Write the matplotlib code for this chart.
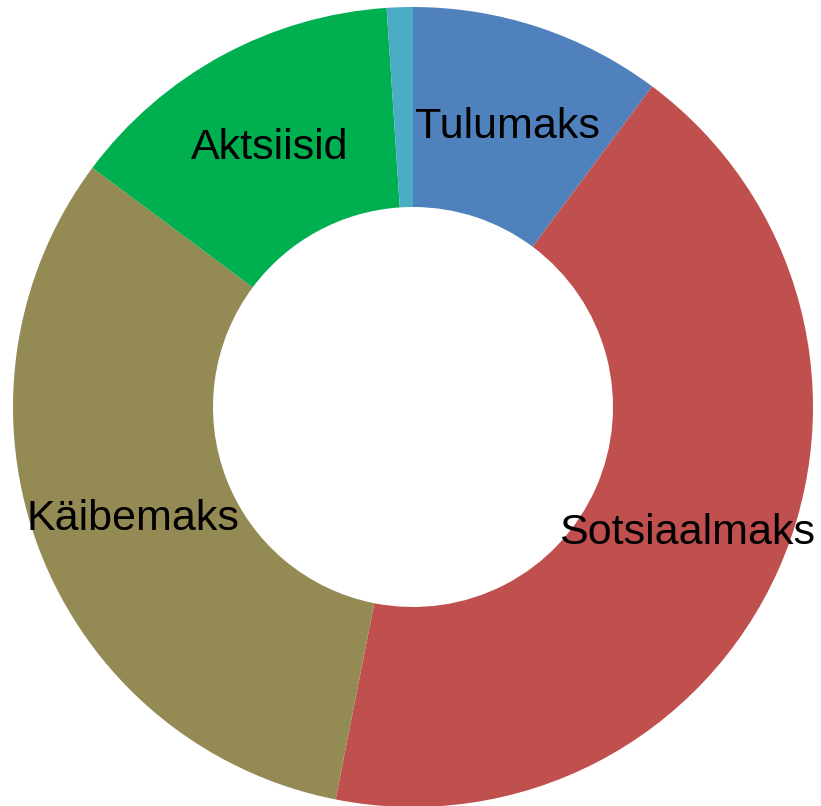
import matplotlib.pyplot as plt

# maksude osakaalud (%)
nimed = ['Tulumaks', 'Sotsiaalmaks', 'Käibemaks', 'Aktsiisid', '']
osakaal = [10.2, 42.9, 32.1, 13.75, 1.05]
varvid = ['#4F81BD', '#C0504D', '#948A54', '#00B050', '#4BACC6']

fig = plt.figure(figsize=(8.21, 8.06), dpi=100)
ax = fig.add_axes([0, 0, 1, 1])

wedges, texts = ax.pie(osakaal, labels=nimed, colors=varvid, startangle=90,
                       counterclock=False, radius=1.0, labeldistance=0.75,
                       wedgeprops=dict(width=0.5, linewidth=0),
                       textprops=dict(fontsize=31, family='Liberation Sans',
                                      color='black'))
for t in texts:
    t.set_ha('center')
    t.set_va('center_baseline')

ax.set_xlim(-1.0325, 1.02)
ax.set_ylim(-0.9975, 1.0175)
ax.set_aspect('equal')
ax.axis('off')

fig.savefig('out.png', dpi=100)
